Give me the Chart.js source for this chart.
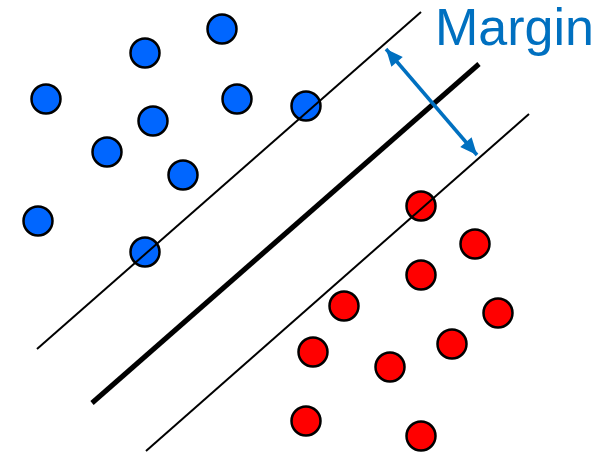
<!DOCTYPE html>
<html>
<head>
<meta charset="utf-8">
<script src="https://cdn.jsdelivr.net/npm/chart.js@4/dist/chart.umd.min.js"></script>
<style>
  body { margin: 0; background: #fff; }
  canvas { display: block; }
</style>
</head>
<body>
<canvas id="svmChart" width="601" height="454"></canvas>
<script>
// class A (blue) and class B (red) samples
var blueX = [222, 145, 46, 237, 306, 153, 107, 183, 38, 145];
var blueY = [29, 53, 99, 99, 106, 121, 152, 175, 221, 252];
var redX = [421, 475, 421, 344, 498, 313, 452, 390, 306, 421];
var redY = [206, 244, 275, 306, 313, 352, 344, 367, 421, 436];

// hyperplane and the two margin lines (end points)
var upperX = [37, 421], upperY = [349, 12];
var middleX = [92, 479], middleY = [403, 64];
var lowerX = [146, 529], lowerY = [451, 114];

// margin arrow and its label
var arrowX = [386, 477], arrowY = [49, 155];
var labelText = 'Margin';
var labelPos = [435, 45];

function pts(xs, ys) {
    return xs.map(function (x, i) { return { x: x, y: ys[i] }; });
}

var marginBlue = '#0070c0';

// draws arrow heads on both ends and the label
var arrowPlugin = {
    id: 'arrowPlugin',
    afterDatasetsDraw: function (chart) {
        var ctx = chart.ctx;
        var xs = chart.scales.x, ys = chart.scales.y;
        var x1 = xs.getPixelForValue(arrowX[0]), y1 = ys.getPixelForValue(arrowY[0]);
        var x2 = xs.getPixelForValue(arrowX[1]), y2 = ys.getPixelForValue(arrowY[1]);
        var ang = Math.atan2(y2 - y1, x2 - x1);
        ctx.save();
        ctx.fillStyle = marginBlue;
        [[x2, y2, ang], [x1, y1, ang + Math.PI]].forEach(function (h) {
            ctx.save();
            ctx.translate(h[0], h[1]);
            ctx.rotate(h[2]);
            ctx.beginPath();
            ctx.moveTo(0, 0);
            ctx.lineTo(-17, -7.5);
            ctx.lineTo(-17, 7.5);
            ctx.closePath();
            ctx.fill();
            ctx.restore();
        });
        ctx.font = '52px "Liberation Sans", Arial, sans-serif';
        ctx.textBaseline = 'alphabetic';
        ctx.fillText(labelText, xs.getPixelForValue(labelPos[0]), ys.getPixelForValue(labelPos[1]));
        ctx.restore();
    }
};

var ctx = document.getElementById('svmChart').getContext('2d');
var svmChart = new Chart(ctx, {
    type: 'scatter',
    data: {
        datasets: [
            {
                type: 'line', data: pts(arrowX, arrowY), borderColor: marginBlue,
                borderWidth: 3.5, pointRadius: 0, showLine: true, fill: false, clip: false
            },
            {
                type: 'line', data: pts(upperX, upperY), borderColor: '#000',
                borderWidth: 2, pointRadius: 0, showLine: true, fill: false, clip: false
            },
            {
                type: 'line', data: pts(middleX, middleY), borderColor: '#000',
                borderWidth: 5, pointRadius: 0, showLine: true, fill: false, clip: false
            },
            {
                type: 'line', data: pts(lowerX, lowerY), borderColor: '#000',
                borderWidth: 2, pointRadius: 0, showLine: true, fill: false, clip: false
            },
            {
                data: pts(blueX, blueY), backgroundColor: '#0066ff', borderColor: '#000',
                borderWidth: 2.5, pointRadius: 14.5, clip: false
            },
            {
                data: pts(redX, redY), backgroundColor: '#ff0000', borderColor: '#000',
                borderWidth: 2.5, pointRadius: 14.5, clip: false
            }
        ]
    },
    options: {
        responsive: false,
        animation: false,
        layout: { padding: 0, autoPadding: false },
        plugins: { legend: { display: false }, tooltip: { enabled: false } },
        scales: {
            x: { type: 'linear', min: 0, max: 601, display: false },
            y: { type: 'linear', min: 0, max: 454, reverse: true, display: false }
        }
    },
    plugins: [arrowPlugin]
});
</script>
</body>
</html>
